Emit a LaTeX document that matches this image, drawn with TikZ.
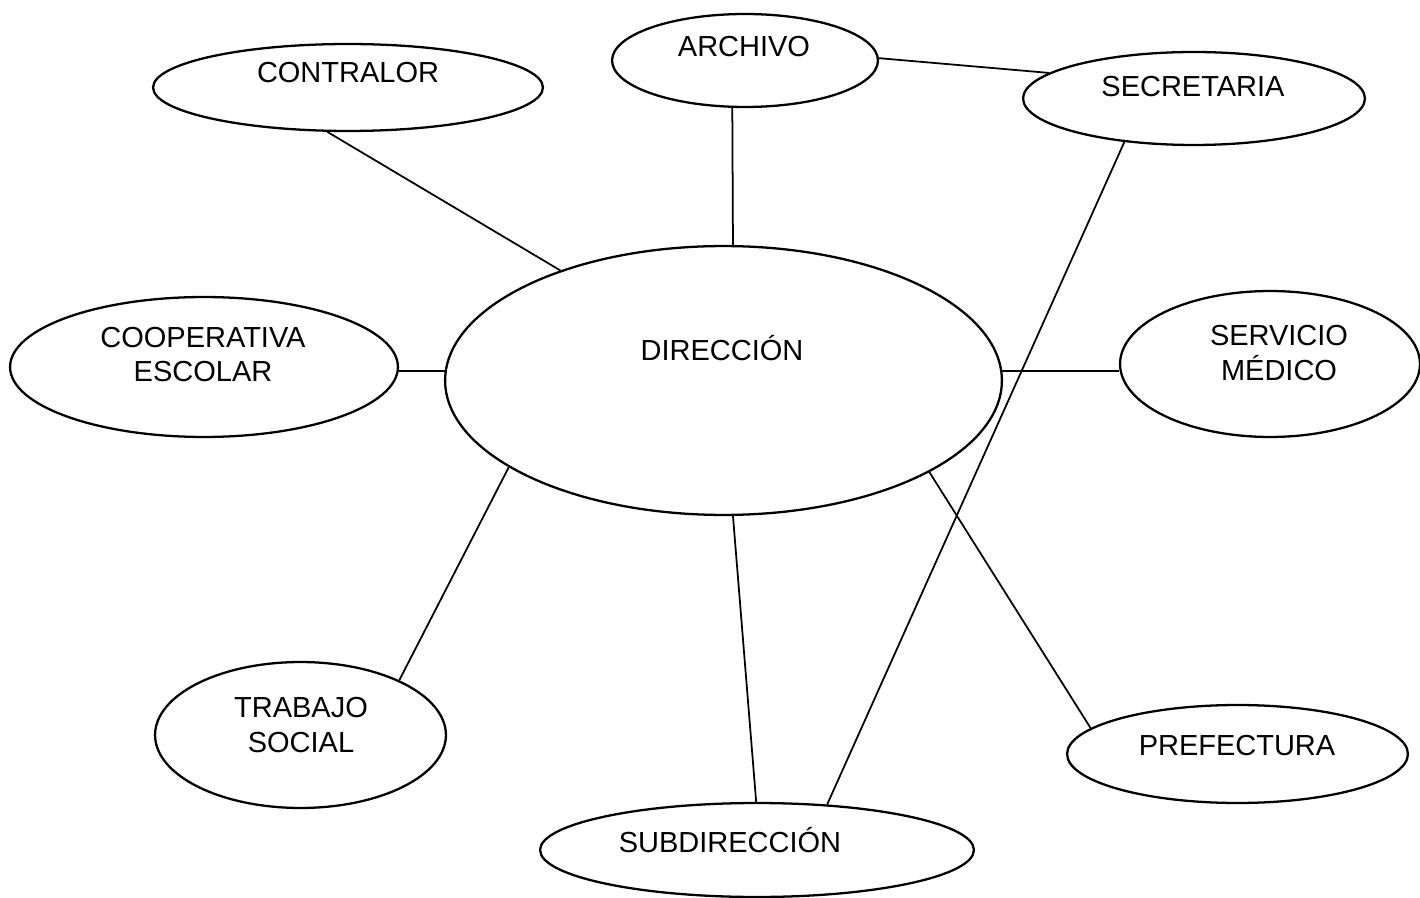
\documentclass[tikz,border=0pt]{standalone}
\usepackage{fontspec}
\setmainfont{Liberation Sans}
\usetikzlibrary{shapes.geometric}
\tikzset{
  ell/.style 2 args={ellipse, draw, line width=1.3pt, inner sep=0pt,
    minimum width=#1*0.04cm, minimum height=#2*0.04cm},
  txt/.style={inner sep=0pt, align=center, font=\fontsize{16.5}{19.8}\selectfont},
  conn/.style={line width=1pt}
}
\begin{document}
\begin{tikzpicture}[x=0.02cm, y=-0.02cm]
\useasboundingbox (0,0) rectangle (1420,898);
% ellipses
\node[ell={195}{43.5}] (contralor) at (348,87.5) {};
\node[ell={133}{46.5}] (archivo) at (745,60.5) {};
\node[ell={171}{46.5}] (secretaria) at (1194,98.5) {};
\node[ell={278.5}{134.5}] (direccion) at (723.5,380.5) {};
\node[ell={194}{70}] (cooperativa) at (204,367) {};
\node[ell={150}{73}] (servicio) at (1270,364) {};
\node[ell={145.5}{73}] (trabajo) at (300.5,735) {};
\node[ell={170.5}{49}] (prefectura) at (1237.5,754) {};
\node[ell={217}{47}] (subdireccion) at (757,850) {};
% texts
\node[txt, anchor=base] (tcontralor) at (348,83) {CONTRALOR};
\node[txt, anchor=base] (tarchivo) at (744,57) {ARCHIVO};
\node[txt, anchor=base] (tsecretaria) at (1193,97) {SECRETARIA};
\node[txt, anchor=base] (tdireccion) at (722,361) {DIRECCIÓN};
\node[txt] (tcooperativa) at (203,354.5) {COOPERATIVA\\ESCOLAR};
\node[txt] (tservicio) at (1279,353) {SERVICIO\\MÉDICO};
\node[txt] (ttrabajo) at (301,725) {TRABAJO\\SOCIAL};
\node[txt, anchor=base] (tprefectura) at (1237,755) {PREFECTURA};
\node[txt, anchor=base] (tsubdireccion) at (730,852) {SUBDIRECCIÓN};
% connectors
\draw[conn] (contralor.245) -- (direccion.146);
\draw[conn] (archivo.255.5) -- (direccion.86);
\draw[conn] (archivo.1) -- (secretaria.170.7);
\draw[conn] (direccion.178) -- (direccion.178 -| cooperativa.east);
\draw[conn] (direccion.2) -- (direccion.2 -| servicio.west);
\draw[conn] (secretaria.212.1) -- (subdireccion.33);
\draw[conn] (direccion.274) -- (subdireccion.91);
\draw[conn] (direccion.336.8) -- (prefectura.170);
\draw[conn] (direccion.202.8) -- (trabajo.29.2);
\end{tikzpicture}
\end{document}
